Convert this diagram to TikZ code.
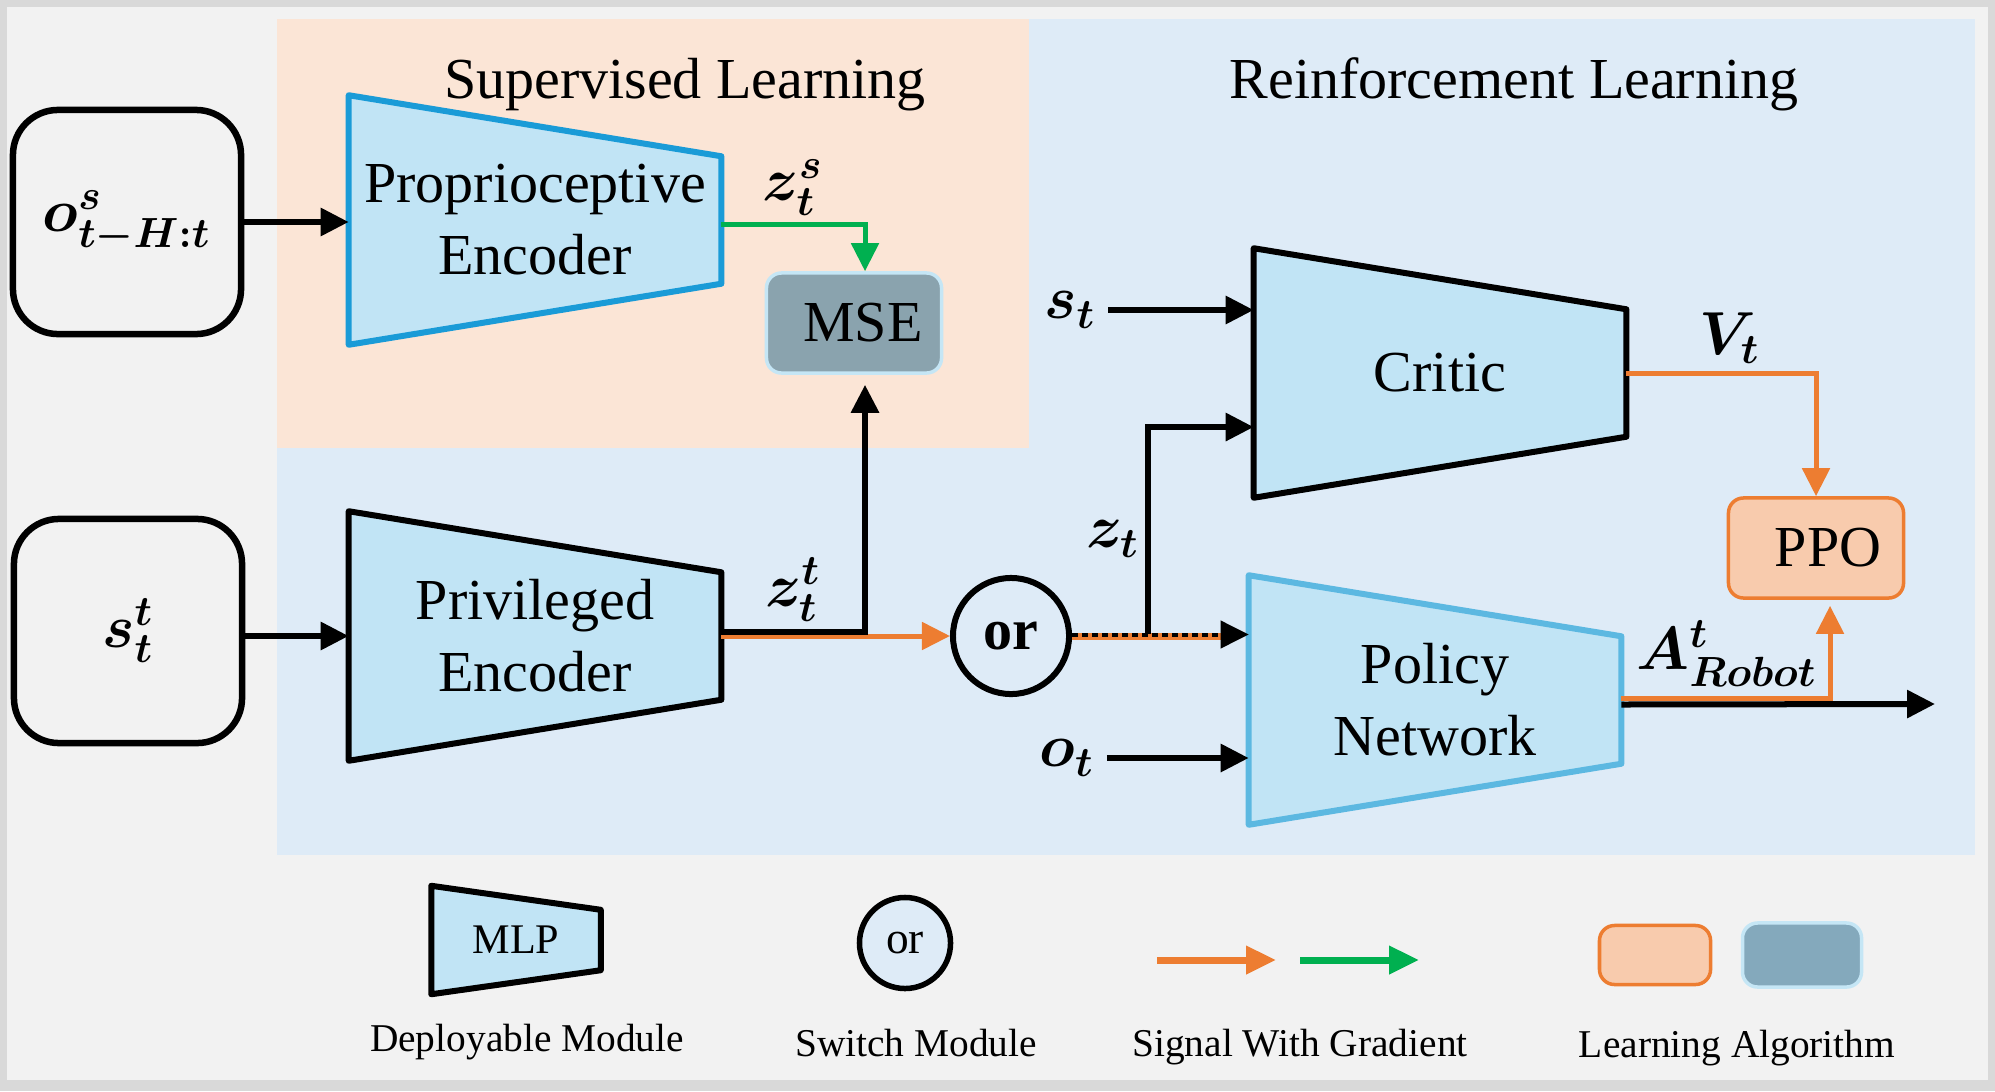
\documentclass[tikz,border=0pt]{standalone}
\usepackage{amsmath}
\usepackage{bm}
\usepackage{fontspec}
\setmainfont{Liberation Serif}
\usetikzlibrary{arrows.meta}

\definecolor{framegray}{HTML}{D9D9D9}
\definecolor{framefill}{HTML}{F2F2F2}
\definecolor{rlfill}{HTML}{DEEBF7}
\definecolor{slfill}{HTML}{FBE5D6}
\definecolor{mlpfill}{HTML}{C1E4F5}
\definecolor{encblue}{HTML}{1A9BD7}
\definecolor{polblue}{HTML}{5CB8E1}
\definecolor{msefill}{HTML}{8AA3AE}
\definecolor{msebord}{HTML}{C5E6F5}
\definecolor{legalg}{HTML}{84A9BC}
\definecolor{ppofill}{HTML}{F8CBAD}
\definecolor{sigorange}{HTML}{ED7D31}
\definecolor{siggreen}{HTML}{00B050}

\begin{document}
\begin{tikzpicture}[x=0.01cm, y=-0.01cm,
    every node/.style={font=\fontsize{16.5}{20.5}\selectfont},
    mlp/.style={minimum width=3.71cm, minimum height=2.48cm, inner sep=0pt},
    mlpline/.style={line width=0.06cm, fill=mlpfill, line join=round},
    inbox/.style={draw, line width=0.065cm, rounded corners=0.45cm, minimum width=2.28cm, minimum height=2.24cm},
    algbox/.style={rounded corners=0.15cm, line width=0.035cm, minimum width=1.75cm, minimum height=1.0cm},
    sig/.style={line width=0.06cm, -{Triangle[length=0.28cm, width=0.27cm]}},
    osig/.style={sig, line width=0.05cm, color=sigorange},
    gsig/.style={sig, line width=0.05cm, color=siggreen},
    lbl/.style={font=\fontsize{17}{20}\selectfont},
    legcap/.style={font=\fontsize{11.2}{13}\selectfont}]
  \useasboundingbox (0,0) rectangle (1995,1091);

  % frame and the two learning regions
  \fill[framegray] (0,0) rectangle (1995,1091);
  \fill[framefill] (7,7) rectangle (1988,1080);
  \fill[rlfill] (277,19) rectangle (1975,855);
  \fill[slfill] (277,19) rectangle (1029,448);
  \node[anchor=base] (sltitle) at (685,99) {Supervised Learning};
  \node[anchor=base] (rltitle) at (1514,99) {Reinforcement Learning};

  % inputs
  \node[inbox, lbl] (obs) at (127,222) {$\bm{o^{s}_{t-H:t}}$};
  \node[inbox, lbl] (privin) at (128,631) {$\bm{s^{t}_{t}}$};

  % encoders
  \node[mlp] (prop) at (535,220) {};
  \draw[mlpline, draw=encblue] (prop.north west) -- ([yshift=-0.61cm]prop.north east) -- ([yshift=0.61cm]prop.south east) -- (prop.south west) -- cycle;
  \node[align=center] (proptxt) at (prop) {Proprioceptive\\Encoder};

  \node[mlp] (priv) at (535,636) {};
  \draw[mlpline, draw=black] (priv.north west) -- ([yshift=-0.61cm]priv.north east) -- ([yshift=0.61cm]priv.south east) -- (priv.south west) -- cycle;
  \node[align=center] (privtxt) at (priv) {Privileged\\Encoder};

  % critic and policy
  \node[mlp] (critic) at (1440,373) {};
  \draw[mlpline, draw=black] (critic.north west) -- ([yshift=-0.61cm]critic.north east) -- ([yshift=0.61cm]critic.south east) -- (critic.south west) -- cycle;
  \node (critictxt) at (critic) {Critic};

  \node[mlp] (policy) at (1435,700) {};
  \draw[mlpline, draw=polblue] (policy.north west) -- ([yshift=-0.61cm]policy.north east) -- ([yshift=0.61cm]policy.south east) -- (policy.south west) -- cycle;
  \node[align=center] (policytxt) at (policy) {Policy\\Network};

  % learning algorithms
  \node[algbox, fill=msefill, draw=msebord] (mse) at (854,323) {\hspace{0.18cm}MSE};
  \node[algbox, fill=ppofill, draw=sigorange] (ppo) at (1816,548) {\hspace{0.24cm}PPO};

  % switch
  \node[circle, draw, line width=0.06cm, minimum size=1.16cm, inner sep=0pt, font=\bfseries\fontsize{16.5}{19}\selectfont] (sw) at (1011,636) {or};

  % signals
  \draw[sig] (obs.east) -- (prop.west |- obs.east);
  \draw[sig] (privin.east |- priv.west) -- (priv.west);
  \draw[gsig] ([yshift=-0.04cm]prop.east) -| ([xshift=0.11cm]mse.north);
  \node[lbl] (zs) at (793,188) {$\bm{z^{s}_{t}}$};
  \draw[osig] (priv.east) -- (sw.west);
  \draw[sig, shorten >=0.1cm] ([yshift=0.045cm]priv.east) -| ([xshift=0.11cm]mse.south);
  \node[lbl] (ztpriv) at (793,590) {$\bm{z^{t}_{t}}$};

  \draw[line width=0.07cm, sigorange, shorten >=0.25cm] (sw.east) -- (policy.west |- sw.east);
  \draw[sig, line width=0.04cm, dash pattern=on 0.06cm off 0.04cm] ([yshift=0.015cm]sw.east) -- ([yshift=0.015cm]policy.west |- sw.east);

  \coordinate (ztsplit) at (1148,634);
  \draw[sig] (ztsplit) |- ([yshift=-0.54cm]critic.west);
  \node[lbl] (zt) at (1113,539) {$\bm{z_{t}}$};

  \node[lbl] (st) at (1070,310) {$\bm{s_{t}}$};
  \draw[sig] (st.east) -- (critic.west |- st.east);
  \node[lbl] (ot) at (1067,758) {$\bm{o_{t}}$};
  \draw[sig] (ot.east) -- (policy.west |- ot.east);

  \draw[osig] (critic.east) -| (ppo.north);
  \node[lbl] (vt) at (1730,338) {$\bm{V_{t}}$};
  \draw[osig, shorten >=0.06cm] ([yshift=0.02cm]policy.east) -| ([xshift=0.14cm]ppo.south);
  \coordinate (act) at (1935,704);
  \draw[sig] ([yshift=-0.045cm]policy.east) -- (act);
  \node[lbl] (arobot) at (1727,654) {$\bm{A^{t}_{Robot}}$};

  % legend
  \node[inner sep=0pt, minimum width=1.68cm, minimum height=1.07cm] (legmlp) at (516,940) {};
  \draw[mlpline, draw=black] (legmlp.north west) -- ([yshift=-0.24cm]legmlp.north east) -- ([yshift=0.24cm]legmlp.south east) -- (legmlp.south west) -- cycle;
  \node[font=\fontsize{12}{14}\selectfont] (legmlptxt) at (legmlp) {MLP};
  \node[legcap] (legmlpcap) at (527,1042) {Deployable Module};

  \node[circle, draw, line width=0.055cm, fill=rlfill, minimum size=0.91cm, inner sep=0pt, font=\fontsize{12.9}{15}\selectfont] (legsw) at (905,943) {or};
  \node[legcap] (legswcap) at (916,1043) {Switch Module};

  \coordinate (legoa) at (1157,960);
  \coordinate (legob) at (1276,960);
  \coordinate (legga) at (1300,960);
  \coordinate (leggb) at (1419,960);
  \draw[osig, line width=0.07cm, -{Triangle[length=0.3cm, width=0.27cm]}] (legoa) -- (legob);
  \draw[gsig, line width=0.07cm, -{Triangle[length=0.3cm, width=0.27cm]}] (legga) -- (leggb);
  \node[legcap] (legsigcap) at (1300,1047) {Signal With Gradient};

  \node[algbox, fill=ppofill, draw=sigorange, minimum width=1.11cm, minimum height=0.59cm] (legppo) at (1655,955) {};
  \node[algbox, fill=legalg, draw=msebord, minimum width=1.19cm, minimum height=0.64cm] (legmse) at (1802,955) {};
  \node[legcap] (legalgcap) at (1737,1048) {Learning Algorithm};
\end{tikzpicture}
\end{document}
